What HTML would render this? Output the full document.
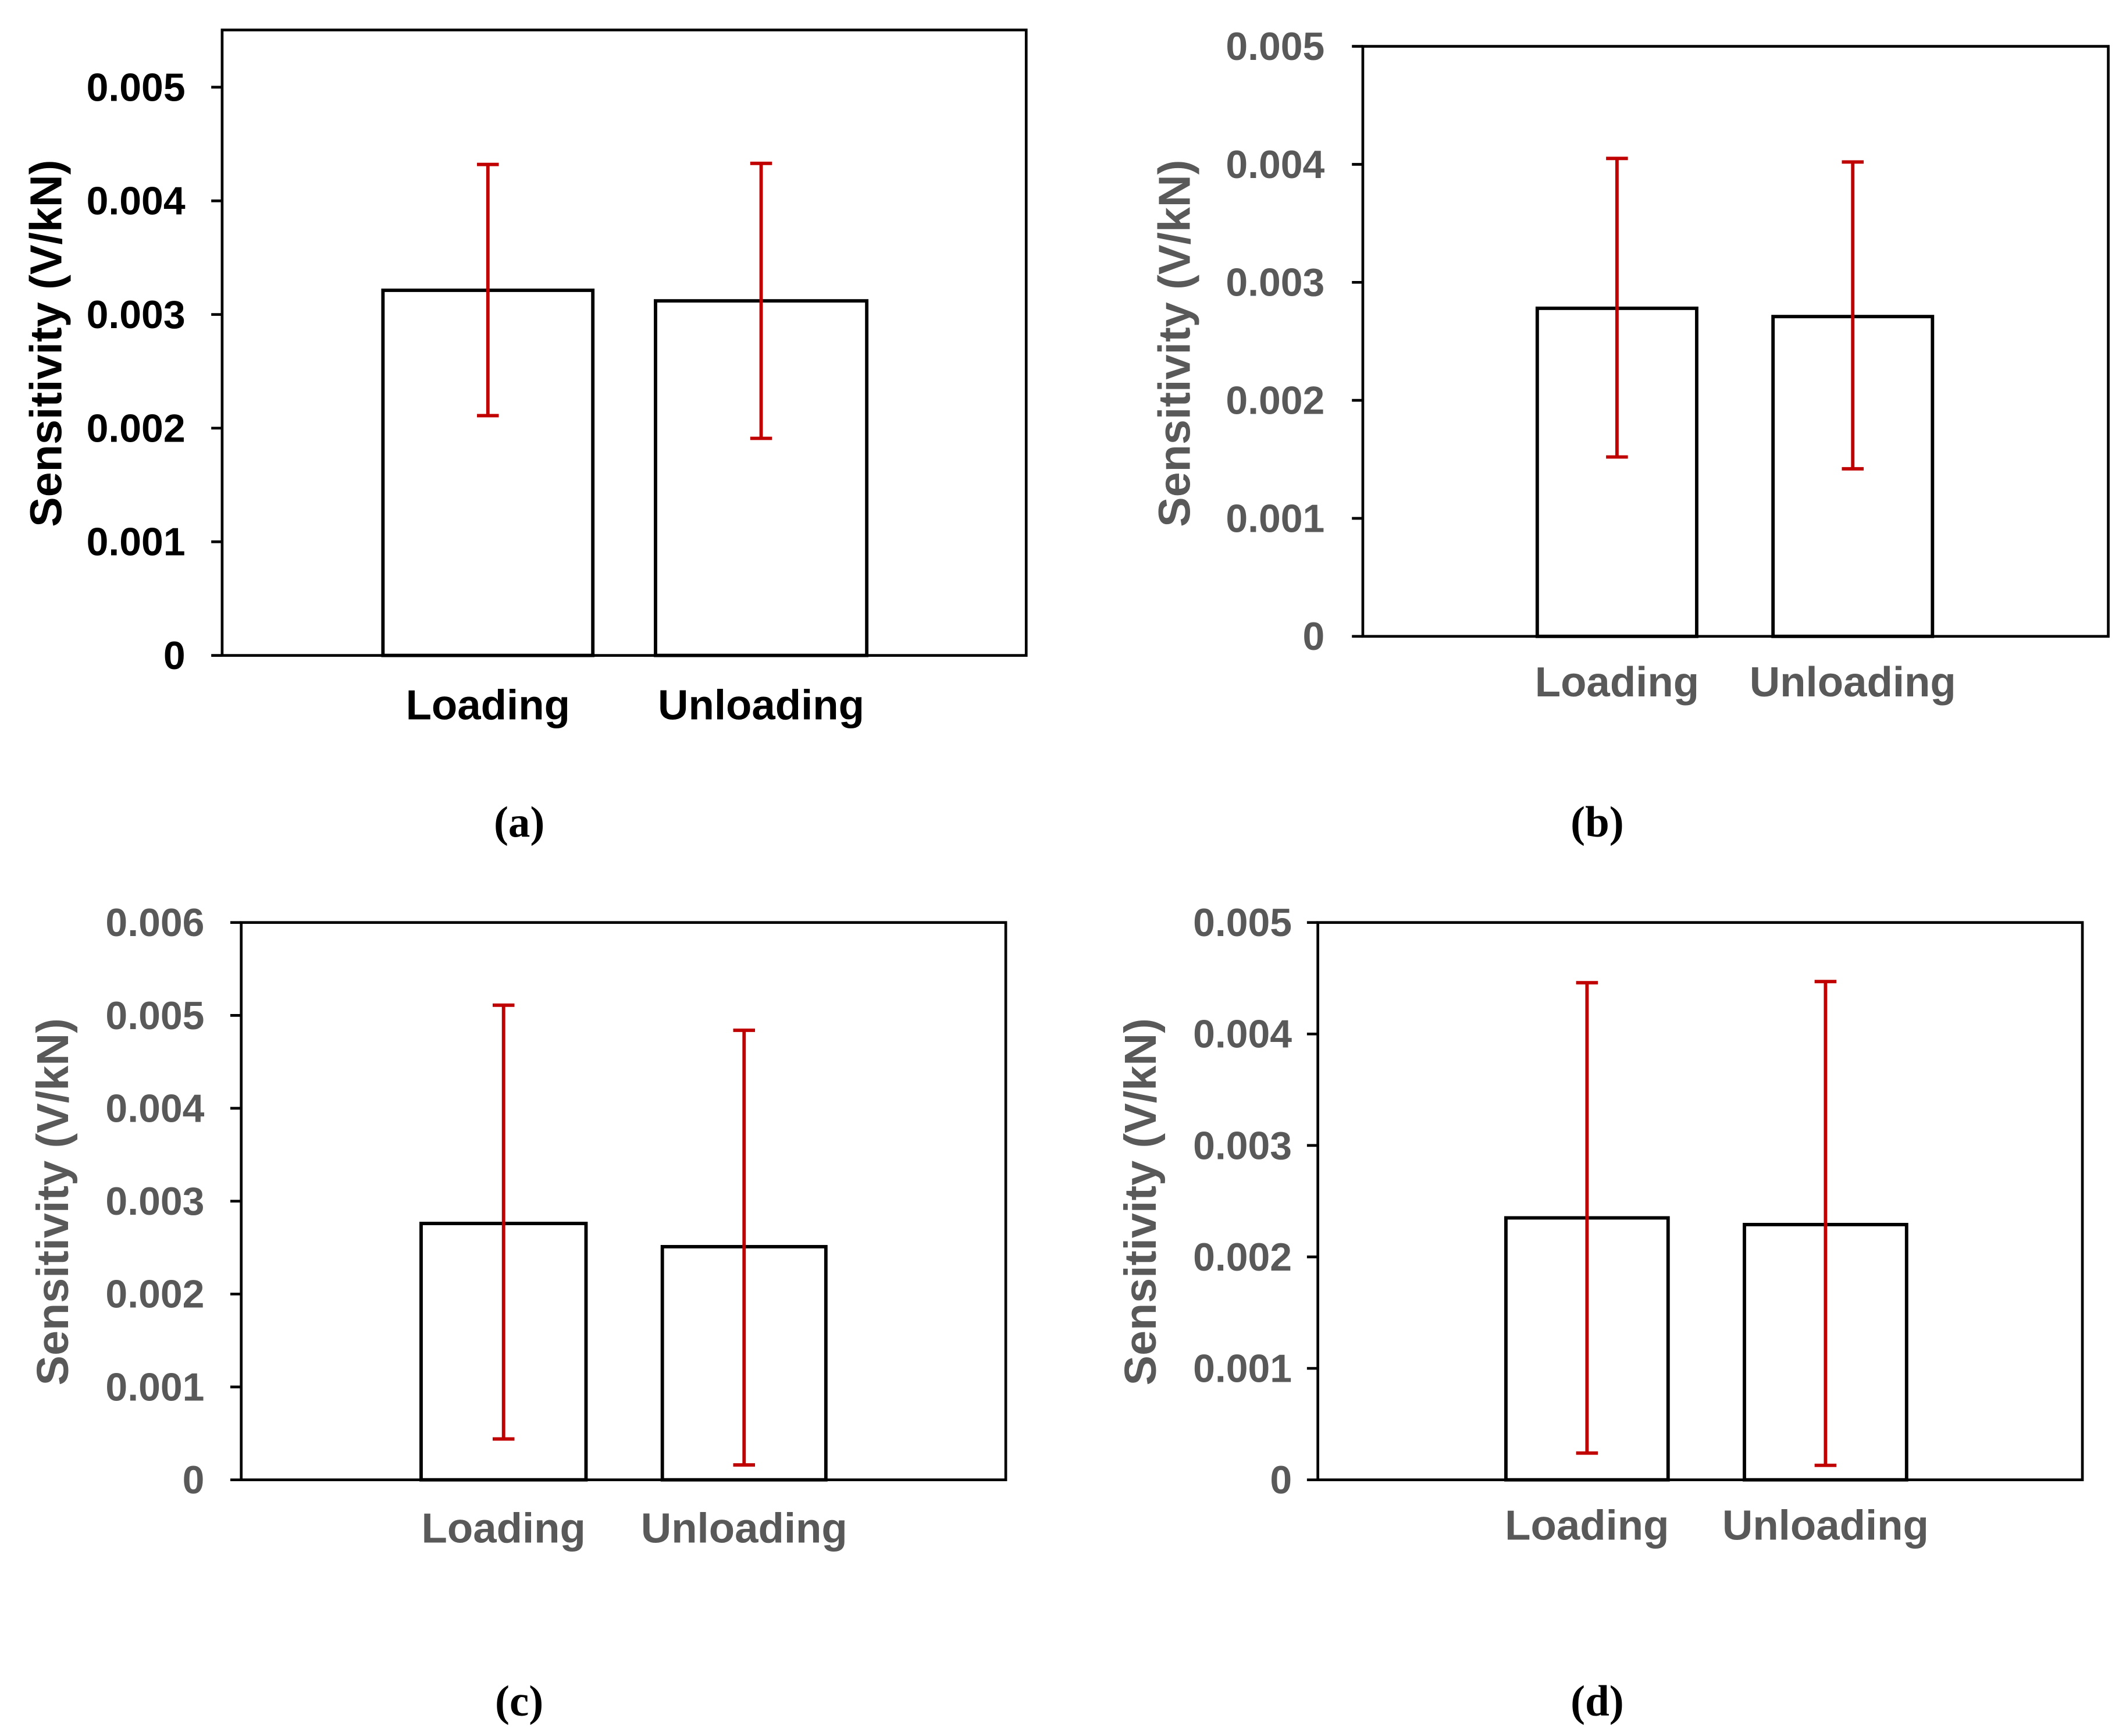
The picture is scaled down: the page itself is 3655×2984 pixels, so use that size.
<!DOCTYPE html>
<html><head><meta charset="utf-8"><style>
html,body{margin:0;padding:0;background:#fff;}
svg{display:block;}
text{font-family:"Liberation Sans",Arial,sans-serif;font-weight:bold;}
</style></head><body>
<svg id="chart" width="3655" height="2984" viewBox="0 0 1560 1274" preserveAspectRatio="none" xmlns="http://www.w3.org/2000/svg"></svg>
<script>
const categories = ["Loading", "Unloading"];
const meansA = [0.003213, 0.00312];
const upperA = [0.00432, 0.00433];
const lowerA = [0.00211, 0.00191];
const meansB = [0.00278, 0.00271];
const upperB = [0.00405, 0.00402];
const lowerB = [0.00152, 0.00142];
const meansC = [0.00276, 0.00251];
const upperC = [0.00511, 0.00484];
const lowerC = [0.00044, 0.00016];
const meansD = [0.00235, 0.00229];
const upperD = [0.00446, 0.00447];
const lowerD = [0.00024, 0.00013];
const ticksA = [0, 0.001, 0.002, 0.003, 0.004, 0.005];
const ticksB = [0, 0.001, 0.002, 0.003, 0.004, 0.005];
const ticksC = [0, 0.001, 0.002, 0.003, 0.004, 0.005, 0.006];
const ticksD = [0, 0.001, 0.002, 0.003, 0.004, 0.005];
const captions = ["(a)", "(b)", "(c)", "(d)"];

const NS = "http://www.w3.org/2000/svg";
const svg = document.getElementById("chart");
function mk(tag, attrs, parent) {
  const e = document.createElementNS(NS, tag);
  for (const k in attrs) e.setAttribute(k, attrs[k]);
  (parent || svg).appendChild(e);
  return e;
}
const panels = [
  {id:"a", x0:163, x1:753, y0:22, y1:481, topVal:0.005, topY:64, ticks:ticksA, means:meansA, up:upperA, lo:lowerA,
   bars:[[281,435],[481,636]], catY:528, col:"#000", tickX:136, titleX:45, titleY:252, cap:[381,614]},
  {id:"b", x0:1000, x1:1547, y0:34, y1:467, topVal:0.005, topY:34, ticks:ticksB, means:meansB, up:upperB, lo:lowerB,
   bars:[[1128,1245],[1301,1418]], catY:511, col:"#595959", tickX:972, titleX:873, titleY:252, cap:[1172,614]},
  {id:"c", x0:177, x1:738, y0:677, y1:1086, topVal:0.006, topY:677, ticks:ticksC, means:meansC, up:upperC, lo:lowerC,
   bars:[[309,430],[486,606]], catY:1132, col:"#595959", tickX:150, titleX:50, titleY:882, cap:[381,1259]},
  {id:"d", x0:967, x1:1528, y0:677, y1:1086, topVal:0.005, topY:677, ticks:ticksD, means:meansD, up:upperD, lo:lowerD,
   bars:[[1105,1224],[1280,1399]], catY:1130, col:"#595959", tickX:948, titleX:848, titleY:882, cap:[1172,1259]}
];
panels.forEach((p, pi) => {
  const g = mk("g", {});
  
  
  const yS = v => p.y1 - (v / p.topVal) * (p.y1 - p.topY);
  const frame = mk("rect", {x:p.x0, y:p.y0, width:p.x1-p.x0, height:p.y1-p.y0, fill:"none", stroke:"#000", "stroke-width":2}, g);
  
  
  p.ticks.forEach(t => {
    const y = yS(t);
    const tk = mk("line", {x1:p.x0-8, x2:p.x0, y1:y, y2:y, stroke:"#000", "stroke-width":2}, g);
    
    
    const tl = mk("text", {x:p.tickX, y:y+10, "text-anchor":"end", "font-size":29, fill:p.col}, g);
    tl.textContent = t === 0 ? "0" : t.toFixed(3);
    
    
  });
  const tt = mk("text", {x:0, y:0, "text-anchor":"middle", "font-size":33, fill:p.col, transform:`translate(${p.titleX},${p.titleY}) rotate(-90)`}, g);
  tt.textContent = "Sensitivity (V/kN)";
  
  
  categories.forEach((c, i) => {
    const [bx0, bx1] = p.bars[i];
    const top = yS(p.means[i]);
    const bar = mk("rect", {x:bx0, y:top, width:bx1-bx0, height:p.y1-top, fill:"#fff", stroke:"#000", "stroke-width":2.5}, g);
    
    
    const cx = (bx0 + bx1) / 2;
    const yu = yS(p.up[i]), yl = yS(p.lo[i]);
    const eg = mk("g", {stroke:"#c00000", "stroke-width":2.5}, g);
    
    
    mk("line", {x1:cx, x2:cx, y1:yu, y2:yl}, eg);
    mk("line", {x1:cx-8, x2:cx+8, y1:yu, y2:yu}, eg);
    mk("line", {x1:cx-8, x2:cx+8, y1:yl, y2:yl}, eg);
    const cl = mk("text", {x:cx, y:p.catY, "text-anchor":"middle", "font-size":31, fill:p.col}, g);
    cl.textContent = c;
    
    
  });
  const cap = mk("text", {x:p.cap[0], y:p.cap[1], "text-anchor":"middle", "font-size":32, fill:"#000", style:'font-family:"Liberation Serif",serif'}, g);
  cap.textContent = captions[pi];
  
  
});
</script>
</body></html>
